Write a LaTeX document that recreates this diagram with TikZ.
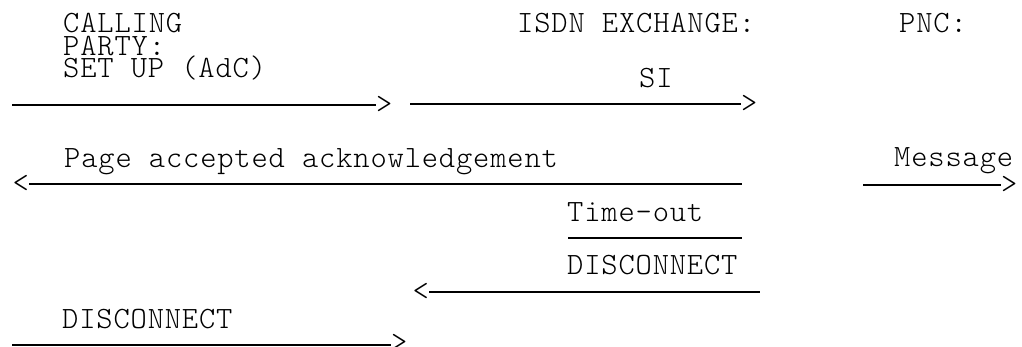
\documentclass[tikz,border=0pt]{standalone}
\usepackage{fontspec}
\setmonofont{lmmonolt10-regular}[Extension=.otf,LetterSpace=2.7]
\usepackage{tikz}

\begin{document}
\begin{tikzpicture}[x=1pt,y=-1pt,
    lbl/.style={anchor=base west,inner sep=0pt,font=\ttfamily\fontsize{31}{22}\selectfont},
    head/.style={inner sep=0pt,font=\ttfamily\fontsize{31}{22}\selectfont},
    msg/.style={line width=1.5pt}]
  \useasboundingbox (0,0) rectangle (1022,347);
  % column heads
  \node[lbl] (calling) at (63,33) {CALLING};
  \node[lbl] (party) at (63,56) {PARTY:};
  \node[lbl] (isdn) at (517,33) {ISDN EXCHANGE:};
  \node[lbl] (pnc) at (899,33) {PNC:};
  % set up
  \node[lbl] (setup) at (63,78) {SET UP (AdC)};
  \coordinate (s1) at (12,105);
  \node[head,anchor=west] (h1) at (376,105) {>};
  \draw[msg] (s1) -- (h1.west);
  \node[lbl] (si) at (639,88) {SI};
  \coordinate (s2) at (410,104);
  \node[head,anchor=west] (h2) at (741,104) {>};
  \draw[msg] (s2) -- (h2.west);
  % acknowledgement
  \node[lbl] (ack) at (64,168) {Page accepted acknowledgement};
  \node[head,anchor=east] (h3) at (29,184) {<};
  \coordinate (e3) at (742,184);
  \draw[msg] (h3.east) -- (e3);
  \node[lbl] (message) at (894,167) {Message};
  \coordinate (s4) at (863,185);
  \node[head,anchor=west] (h4) at (1001,185) {>};
  \draw[msg] (s4) -- (h4.west);
  % time-out
  \node[lbl] (timeout) at (567,222) {Time-out};
  \coordinate (t1) at (568,238);
  \coordinate (t2) at (742,238);
  \draw[msg] (t1) -- (t2);
  % disconnect
  \node[lbl] (disc1) at (567,275) {DISCONNECT};
  \node[head,anchor=east] (h6) at (429,292) {<};
  \coordinate (e6) at (760,292);
  \draw[msg] (h6.east) -- (e6);
  \node[lbl] (disc2) at (62,328) {DISCONNECT};
  \coordinate (s7) at (12,345);
  \node[head,anchor=west] (h7) at (391,343) {>};
  \draw[msg] (s7) -- (h7.west |- s7);
\end{tikzpicture}
\end{document}
